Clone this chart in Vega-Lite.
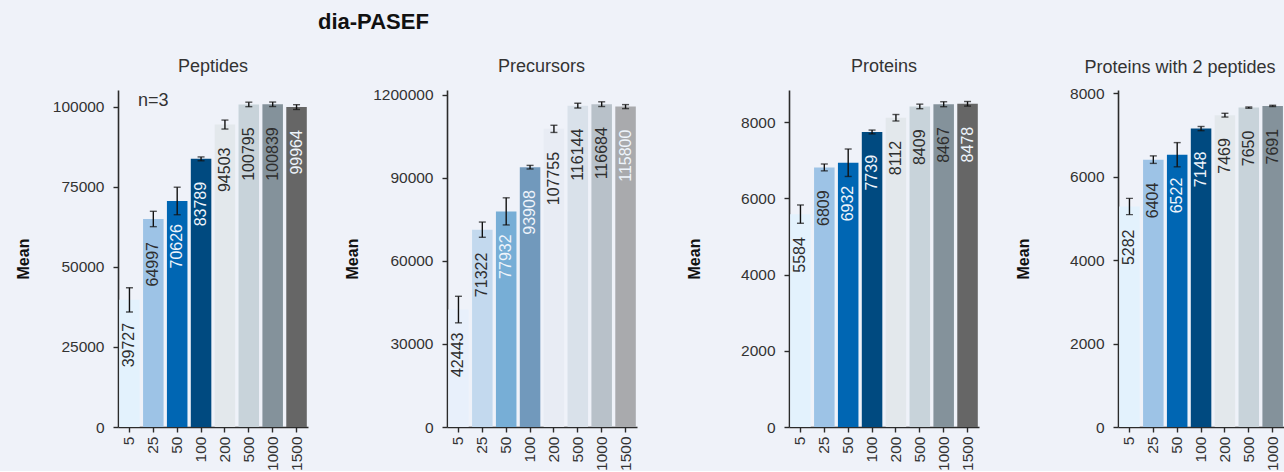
{
  "$schema": "https://vega.github.io/schema/vega-lite/v6.json",
  "background": "#eff2f9",
  "padding": {"left": 15, "top": 11, "right": 0, "bottom": 0},
  "config": {
    "font": "Liberation Sans",
    "view": {"stroke": null},
    "axis": {
      "grid": false,
      "domainColor": "#2b2b2b",
      "domainWidth": 1.6,
      "tickColor": "#2b2b2b",
      "tickWidth": 1.4,
      "tickSize": 5,
      "labelFontSize": 15.5,
      "labelColor": "#333333",
      "labelFont": "Liberation Sans",
      "titleFont": "Liberation Sans"
    },
    "axisY": {
      "labelPadding": 9,
      "format": "d",
      "titleFontSize": 16,
      "titleFontWeight": "bold",
      "titleColor": "#111111",
      "titleX": -95,
      "titleBaseline": "middle"
    },
    "axisX": {"labelAngle": -90, "labelPadding": 4, "title": null},
    "title": {"fontSize": 18, "fontWeight": "normal", "color": "#333333", "baseline": "alphabetic"}
  },
  "title": {"text": "dia-PASEF", "fontSize": 22, "fontWeight": "bold", "color": "#111111", "anchor": "start", "frame": "bounds", "dx": 303, "offset": 7, "baseline": "alphabetic"},
  "datasets": {
    "d": [
      {"panel": "Peptides", "conc": "5", "mean": 39727, "lo": 35927, "hi": 43527},
      {"panel": "Peptides", "conc": "25", "mean": 64997, "lo": 62597, "hi": 67397},
      {"panel": "Peptides", "conc": "50", "mean": 70626, "lo": 66326, "hi": 74926},
      {"panel": "Peptides", "conc": "100", "mean": 83789, "lo": 83189, "hi": 84389},
      {"panel": "Peptides", "conc": "200", "mean": 94503, "lo": 93103, "hi": 95903},
      {"panel": "Peptides", "conc": "500", "mean": 100795, "lo": 100095, "hi": 101495},
      {"panel": "Peptides", "conc": "1000", "mean": 100839, "lo": 100139, "hi": 101539},
      {"panel": "Peptides", "conc": "1500", "mean": 99964, "lo": 99214, "hi": 100714},
      {"panel": "Precursors", "conc": "5", "mean": 42443, "lo": 37643, "hi": 47243},
      {"panel": "Precursors", "conc": "25", "mean": 71322, "lo": 68572, "hi": 74072},
      {"panel": "Precursors", "conc": "50", "mean": 77932, "lo": 73032, "hi": 82832},
      {"panel": "Precursors", "conc": "100", "mean": 93908, "lo": 93258, "hi": 94558},
      {"panel": "Precursors", "conc": "200", "mean": 107755, "lo": 106455, "hi": 109055},
      {"panel": "Precursors", "conc": "500", "mean": 116144, "lo": 115294, "hi": 116994},
      {"panel": "Precursors", "conc": "1000", "mean": 116684, "lo": 115834, "hi": 117534},
      {"panel": "Precursors", "conc": "1500", "mean": 115800, "lo": 115080, "hi": 116520},
      {"panel": "Proteins", "conc": "5", "mean": 5584, "lo": 5344, "hi": 5824},
      {"panel": "Proteins", "conc": "25", "mean": 6809, "lo": 6719, "hi": 6899},
      {"panel": "Proteins", "conc": "50", "mean": 6932, "lo": 6572, "hi": 7292},
      {"panel": "Proteins", "conc": "100", "mean": 7739, "lo": 7689, "hi": 7789},
      {"panel": "Proteins", "conc": "200", "mean": 8112, "lo": 8027, "hi": 8197},
      {"panel": "Proteins", "conc": "500", "mean": 8409, "lo": 8349, "hi": 8469},
      {"panel": "Proteins", "conc": "1000", "mean": 8467, "lo": 8402, "hi": 8532},
      {"panel": "Proteins", "conc": "1500", "mean": 8478, "lo": 8418, "hi": 8538},
      {"panel": "P2", "conc": "5", "mean": 5282, "lo": 5087, "hi": 5477},
      {"panel": "P2", "conc": "25", "mean": 6404, "lo": 6314, "hi": 6494},
      {"panel": "P2", "conc": "50", "mean": 6522, "lo": 6232, "hi": 6812},
      {"panel": "P2", "conc": "100", "mean": 7148, "lo": 7098, "hi": 7198},
      {"panel": "P2", "conc": "200", "mean": 7469, "lo": 7424, "hi": 7514},
      {"panel": "P2", "conc": "500", "mean": 7650, "lo": 7635, "hi": 7665},
      {"panel": "P2", "conc": "1000", "mean": 7691, "lo": 7676, "hi": 7706},
      {"panel": "P2", "conc": "1500", "mean": 7700, "lo": 7680, "hi": 7720}
    ]
  },
  "bounds": "flush",
  "spacing": 139,
  "resolve": {"scale": {"x": "independent", "y": "independent", "fill": "independent", "color": "independent"}},
  "hconcat": [
    {
      "width": 190, "height": 337,
      "title": {"text": "Peptides", "frame": "group", "offset": 14},
      "layer": [
        {
          "data": {"name": "d"},
          "transform": [{"filter": "datum.panel == 'Peptides'"}],
          "encoding": {
            "x": {"field": "conc", "type": "nominal", "sort": ["5","25","50","100","200","500","1000","1500"], "scale": {"paddingInner": 0.14, "paddingOuter": 0.05}},
            "y": {"field": "mean", "type": "quantitative", "scale": {"domain": [0, 105300], "nice": false}, "axis": {"title": "Mean", "values": [0,25000,50000,75000,100000]}}
          },
          "layer": [
            {"mark": {"type": "bar"}, "encoding": {"fill": {"field": "conc", "type": "nominal", "legend": null, "scale": {"domain": ["5","25","50","100","200","500","1000","1500"], "range": ["#e3f2fd","#9dc3e6","#0066b3","#004a80","#e3e8ec","#c8d3da","#84929b","#666666"]}}}},
            {"mark": {"type": "text", "angle": 270, "align": "right", "baseline": "middle", "dx": -23, "fontSize": 16}, "encoding": {"text": {"field": "mean", "type": "quantitative", "format": "d"}, "color": {"condition": {"test": "indexof(['50','100','1500'], datum.conc) >= 0", "value": "#eef4fb"}, "value": "#2e2e2e"}}},
            {"mark": {"type": "rule", "color": "#111111", "strokeWidth": 1.4}, "encoding": {"y": {"field": "lo", "type": "quantitative"}, "y2": {"field": "hi"}}},
            {"mark": {"type": "tick", "color": "#111111", "size": 7, "thickness": 1.4}, "encoding": {"y": {"field": "lo", "type": "quantitative"}}},
            {"mark": {"type": "tick", "color": "#111111", "size": 7, "thickness": 1.4}, "encoding": {"y": {"field": "hi", "type": "quantitative"}}}
          ]
        },
        {
          "data": {"values": [{"t": "n=3"}]},
          "mark": {"type": "text", "fontSize": 18, "color": "#333333", "baseline": "middle", "align": "center"},
          "encoding": {"x": {"datum": "25"}, "y": {"datum": 101860}, "text": {"field": "t"}}
        }
      ]
    },
    {
      "width": 203, "height": 337,
      "title": {"text": "Precursors", "frame": "group", "offset": 11.5, "dx": -7},
      "data": {"name": "d"},
      "transform": [{"filter": "datum.panel == 'Precursors'"}],
      "encoding": {
        "x": {"field": "conc", "type": "nominal", "sort": ["5","25","50","100","200","500","1000","1500"], "scale": {"paddingInner": 0.14, "paddingOuter": 0.05, "range": [0, 190]}},
        "y": {"field": "mean", "type": "quantitative", "scale": {"domain": [0, 121800], "nice": false}, "axis": {"title": "Mean", "values": [0,30000,60000,90000,120000], "labelExpr": "datum.value == 120000 ? '1200000' : datum.label"}}
      },
      "layer": [
        {"mark": {"type": "bar"}, "encoding": {"fill": {"field": "conc", "type": "nominal", "legend": null, "scale": {"domain": ["5","25","50","100","200","500","1000","1500"], "range": ["#e8f0fb","#c3d9ee","#77aed6","#7199bc","#e8ecf4","#d9e1ea","#b8c1c9","#a9aaad"]}}}},
        {"mark": {"type": "text", "angle": 270, "align": "right", "baseline": "middle", "dx": -23, "fontSize": 16}, "encoding": {"text": {"field": "mean", "type": "quantitative", "format": "d"}, "color": {"condition": {"test": "indexof(['50','100','1500'], datum.conc) >= 0", "value": "#eef4fb"}, "value": "#2e2e2e"}}},
        {"mark": {"type": "rule", "color": "#111111", "strokeWidth": 1.4}, "encoding": {"y": {"field": "lo", "type": "quantitative"}, "y2": {"field": "hi"}}},
        {"mark": {"type": "tick", "color": "#111111", "size": 7, "thickness": 1.4}, "encoding": {"y": {"field": "lo", "type": "quantitative"}}},
        {"mark": {"type": "tick", "color": "#111111", "size": 7, "thickness": 1.4}, "encoding": {"y": {"field": "hi", "type": "quantitative"}}}
      ]
    },
    {
      "width": 190, "height": 337,
      "title": {"text": "Proteins", "frame": "group", "offset": 14},
      "data": {"name": "d"},
      "transform": [{"filter": "datum.panel == 'Proteins'"}],
      "encoding": {
        "x": {"field": "conc", "type": "nominal", "sort": ["5","25","50","100","200","500","1000","1500"], "scale": {"paddingInner": 0.14, "paddingOuter": 0.05}},
        "y": {"field": "mean", "type": "quantitative", "scale": {"domain": [0, 8840], "nice": false}, "axis": {"title": "Mean", "values": [0,2000,4000,6000,8000]}}
      },
      "layer": [
        {"mark": {"type": "bar"}, "encoding": {"fill": {"field": "conc", "type": "nominal", "legend": null, "scale": {"domain": ["5","25","50","100","200","500","1000","1500"], "range": ["#e3f2fd","#9dc3e6","#0066b3","#004a80","#e3e8ec","#c8d3da","#84929b","#666666"]}}}},
        {"mark": {"type": "text", "angle": 270, "align": "right", "baseline": "middle", "dx": -23, "fontSize": 16}, "encoding": {"text": {"field": "mean", "type": "quantitative", "format": "d"}, "color": {"condition": {"test": "indexof(['50','100','1500'], datum.conc) >= 0", "value": "#eef4fb"}, "value": "#2e2e2e"}}},
        {"mark": {"type": "rule", "color": "#111111", "strokeWidth": 1.4}, "encoding": {"y": {"field": "lo", "type": "quantitative"}, "y2": {"field": "hi"}}},
        {"mark": {"type": "tick", "color": "#111111", "size": 7, "thickness": 1.4}, "encoding": {"y": {"field": "lo", "type": "quantitative"}}},
        {"mark": {"type": "tick", "color": "#111111", "size": 7, "thickness": 1.4}, "encoding": {"y": {"field": "hi", "type": "quantitative"}}}
      ]
    },
    {
      "width": 190, "height": 337,
      "title": {"text": "Proteins with 2 peptides", "frame": "group", "offset": 9.5, "dx": -33},
      "data": {"name": "d"},
      "transform": [{"filter": "datum.panel == 'P2'"}],
      "encoding": {
        "x": {"field": "conc", "type": "nominal", "sort": ["5","25","50","100","200","500","1000","1500"], "scale": {"paddingInner": 0.14, "paddingOuter": 0.05}},
        "y": {"field": "mean", "type": "quantitative", "scale": {"domain": [0, 8072], "nice": false}, "axis": {"title": "Mean", "values": [0,2000,4000,6000,8000]}}
      },
      "layer": [
        {"mark": {"type": "bar"}, "encoding": {"fill": {"field": "conc", "type": "nominal", "legend": null, "scale": {"domain": ["5","25","50","100","200","500","1000","1500"], "range": ["#e3f2fd","#9dc3e6","#0066b3","#004a80","#e3e8ec","#c8d3da","#84929b","#666666"]}}}},
        {"mark": {"type": "text", "angle": 270, "align": "right", "baseline": "middle", "dx": -23, "fontSize": 16}, "encoding": {"text": {"field": "mean", "type": "quantitative", "format": "d"}, "color": {"condition": {"test": "indexof(['50','100','1500'], datum.conc) >= 0", "value": "#eef4fb"}, "value": "#2e2e2e"}}},
        {"mark": {"type": "rule", "color": "#111111", "strokeWidth": 1.4}, "encoding": {"y": {"field": "lo", "type": "quantitative"}, "y2": {"field": "hi"}}},
        {"mark": {"type": "tick", "color": "#111111", "size": 7, "thickness": 1.4}, "encoding": {"y": {"field": "lo", "type": "quantitative"}}},
        {"mark": {"type": "tick", "color": "#111111", "size": 7, "thickness": 1.4}, "encoding": {"y": {"field": "hi", "type": "quantitative"}}}
      ]
    }
  ]
}
